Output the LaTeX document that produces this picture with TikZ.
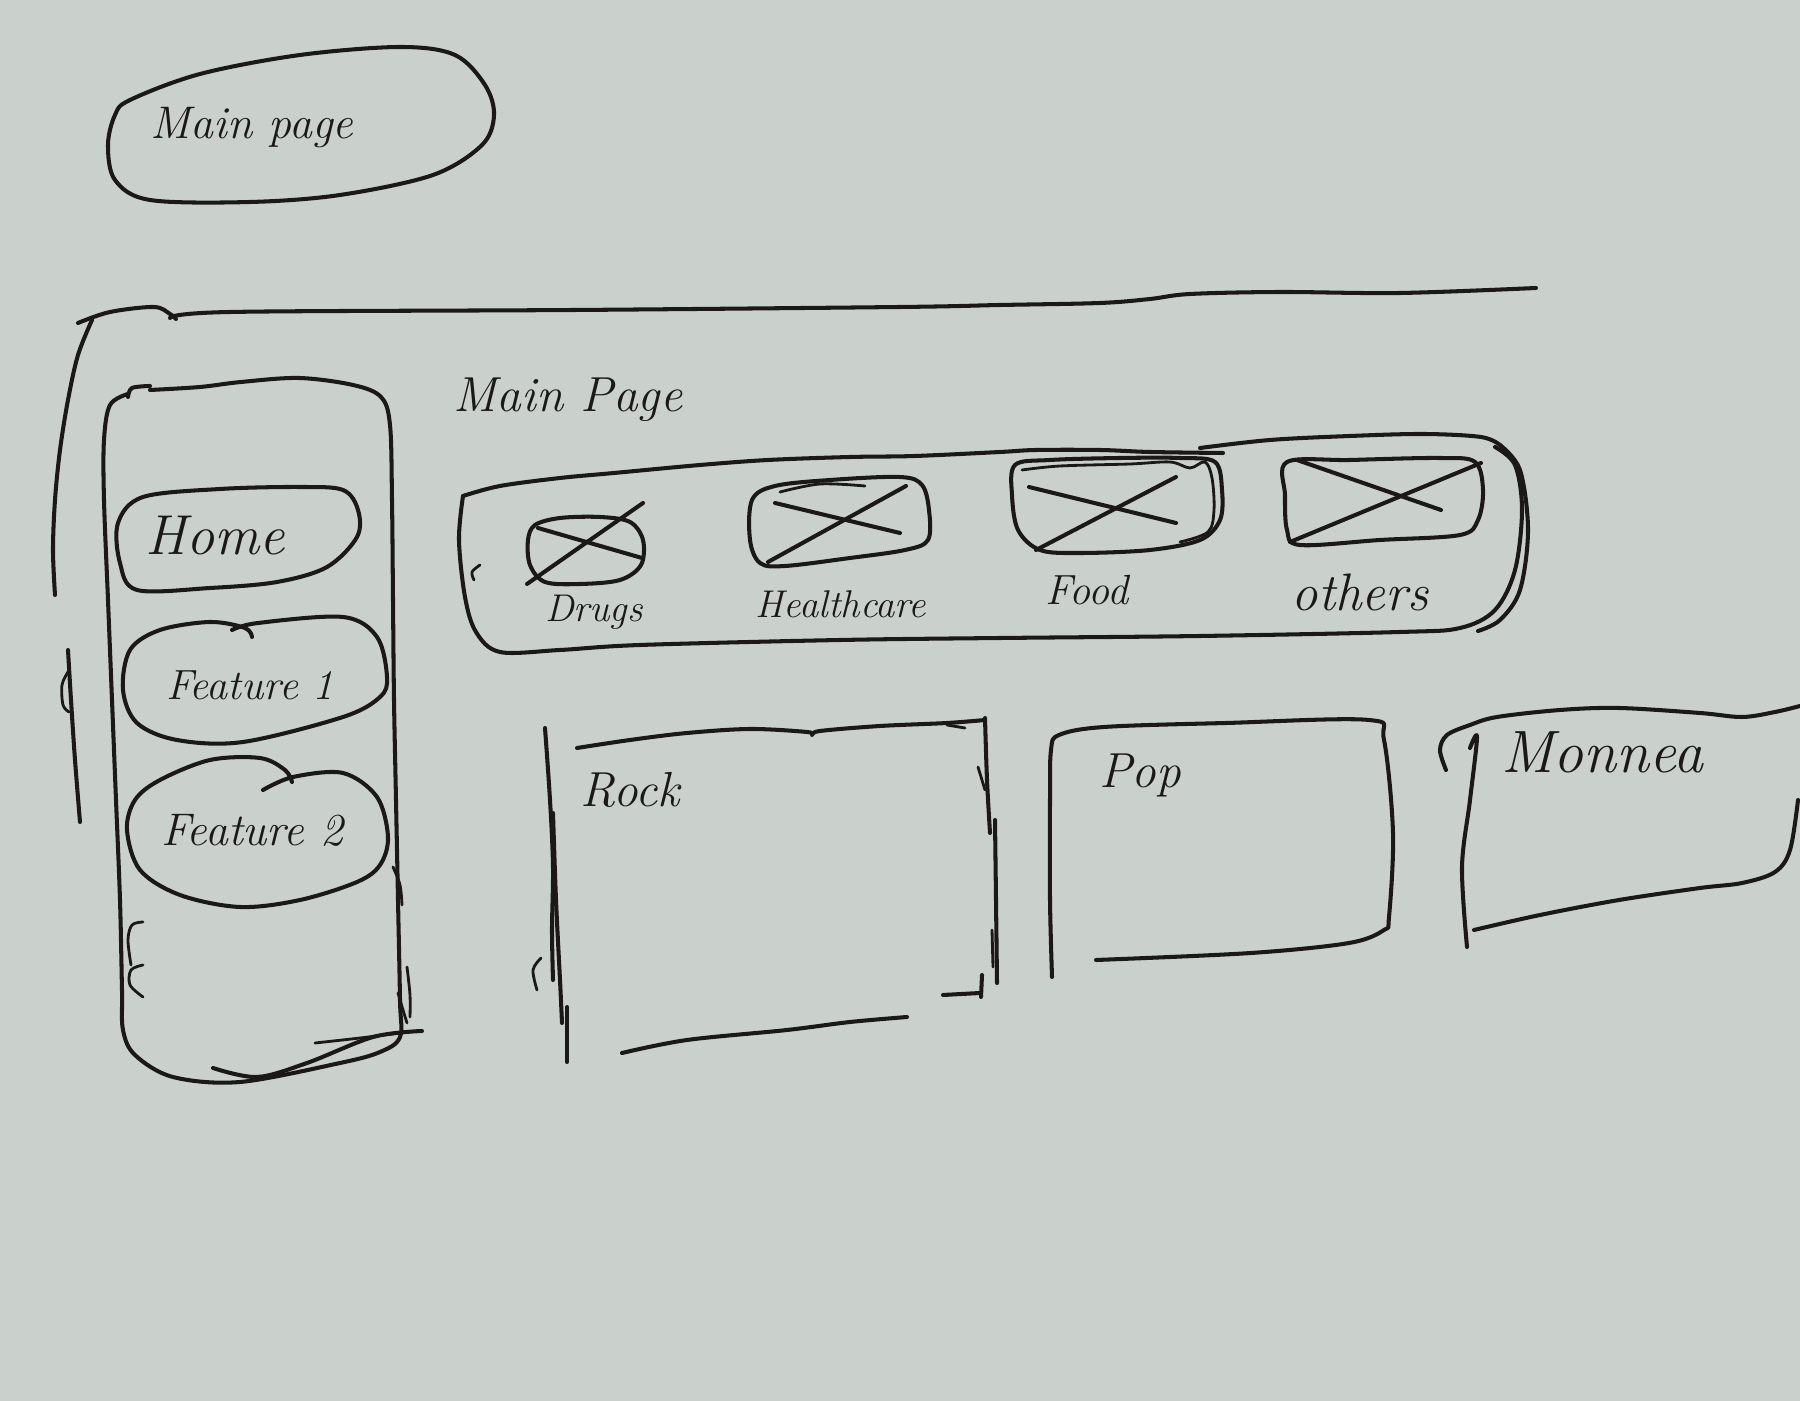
\documentclass[tikz,border=0pt]{standalone}
\begin{document}
\definecolor{paper}{RGB}{202,209,205}
\definecolor{inkc}{RGB}{28,24,24}
\begin{tikzpicture}[x=0.01cm,y=-0.01cm,
  ink/.style={draw=inkc, line width=1.15pt, line cap=round, line join=round},
  thin ink/.style={ink, line width=0.8pt},
  hand/.style={text=inkc, inner sep=0pt, font=\itshape},
  sm/.style={smooth, tension=0.55}]
% paper
\fill[paper] (0,0) rectangle (1800,1401);
\useasboundingbox (0,0) rectangle (1800,1401);

% ---- title blob ----
\draw[ink] plot[smooth cycle, tension=0.55] coordinates {(130,100)(200,74)(300,55)(400,47)(455,55)(485,85)(494,115)(482,145)(433,175)(340,195)(250,202)(150,200)(115,180)(108,145)(115,115)};
\node[hand, font=\itshape\fontsize{13}{15}\selectfont] (title) at (252,128) {Main page};

% ---- outer frame ----
\draw[ink] plot[sm] coordinates {(78,323)(110,312)(154,307)(170,314)(176,319)};
\draw[ink] plot[sm] coordinates {(170,318)(230,312)(574,310)(900,307)(1000,305)(1100,303)(1150,299)(1190,294)(1280,292)(1400,293)(1536,288)};
\draw[ink] plot[sm] coordinates {(92,320)(78,355)(68,400)(60,450)(55,500)(53,550)(55,595)};
\draw[ink] plot[sm] coordinates {(68,650)(71,700)(75,760)(80,822)};
\draw[thin ink] plot[sm] coordinates {(68,672)(62,685)(63,705)(69,712)};

% ---- side menu column ----
\draw[ink] plot[sm] coordinates {(128,397)(132,388)(150,386)};
\draw[ink] plot[sm] coordinates {(150,390)(200,387)(241,382)(299,378)(353,385)(381,397)(390,425)(392,500)(393,600)(394,700)(396,800)(398,900)(400,1000)(400,1037)(380,1052)(340,1063)(240,1082)(173,1077)(135,1055)(123,1030)(122,990)(120,900)(116,800)(112,700)(108,600)(104,500)(104,440)(110,405)(128,394)};
\draw[ink] plot[sm] coordinates {(213,1068)(257,1077)(307,1063)(373,1037)(422,1031)};
\draw[thin ink] plot[sm] coordinates {(315,1043)(360,1038)(407,1032)};
\draw[thin ink] plot[sm] coordinates {(393,867)(400,885)(402,905)};
\draw[thin ink] plot[sm] coordinates {(407,967)(410,995)(410,1017)};
\draw[thin ink] plot[sm] coordinates {(398,993)(403,1010)(407,1023)};
\draw[thin ink] plot[sm] coordinates {(143,922)(132,925)(128,940)(131,965)};
\draw[thin ink] plot[sm] coordinates {(143,965)(131,970)(130,985)(143,997)};

% menu entries
\draw[ink] plot[smooth cycle, tension=0.55] coordinates {(143,497)(220,489)(300,487)(343,490)(358,510)(357,537)(327,567)(277,582)(210,588)(137,590)(120,563)(118,523)};
\node[hand, font=\itshape\fontsize{16}{18}\selectfont] (home) at (215,536) {Home};

\draw[ink] plot[sm] coordinates {(232,630)(258,623)(343,617)(377,637)(387,677)(380,697)(343,717)(243,742)(177,740)(137,723)(123,690)(130,650)(160,630)(210,622)(245,628)(252,637)};
\node[hand, font=\itshape\fontsize{12}{14}\selectfont] (feat1) at (250,685) {Feature 1};

\draw[ink] plot[sm] coordinates {(263,790)(293,777)(343,773)(377,797)(388,837)(380,865)(357,882)(300,900)(240,907)(180,895)(140,870)(127,830)(135,800)(160,780)(210,760)(260,758)(285,770)(292,782)};
\node[hand, font=\itshape\fontsize{13}{15}\selectfont] (feat2) at (252,830) {Feature 2};

% ---- main page heading ----
\node[hand, font=\itshape\fontsize{14}{16}\selectfont] (mphead) at (568,400) {Main Page};

% ---- category bar ----
\draw[ink] plot[sm] coordinates {(463,496)(500,486)(560,478)(614,473)(700,465)(768,460)(850,457)(915,456)(1000,452)(1036,450)(1100,450)(1150,452)(1223,453)};
\draw[ink] plot[sm] coordinates {(1200,448)(1270,440)(1350,436)(1424,434)(1481,437)(1500,445)};
\draw[ink] plot[sm] coordinates {(463,496)(459,540)(465,597)(476,632)(500,652)(560,650)(640,645)(840,640)(1000,638)(1200,636)(1400,632)(1460,628)(1495,610)(1515,570)(1522,510)(1515,465)(1495,447)};
\draw[ink] plot[sm] coordinates {(1500,445)(1520,470)(1528,530)(1520,590)(1500,620)(1478,631)};
\draw[thin ink] plot[sm] coordinates {(480,565)(472,572)(474,580)};

% category tiles
\draw[ink] plot[smooth cycle, tension=0.55] coordinates {(535,525)(560,518)(600,517)(630,522)(643,540)(641,565)(620,580)(580,584)(545,582)(530,565)(528,540)};
\draw[ink] (527,584) -- (643,503);
\draw[ink] (538,528) -- (642,558);
\node[hand, font=\itshape\fontsize{11}{13}\selectfont] (drugs) at (594,612) {Drugs};

\draw[ink] plot[smooth cycle, tension=0.55] coordinates {(752,500)(775,486)(830,480)(900,477)(922,485)(929,510)(928,540)(905,550)(850,558)(785,566)(760,563)(750,540)};
\draw[thin ink] plot[sm] coordinates {(780,492)(820,484)(865,486)};
\draw[ink] (768,562) -- (906,486);
\draw[ink] (775,503) -- (900,533);
\node[hand, font=\itshape\fontsize{11}{13}\selectfont] (health) at (841,604) {Healthcare};

\draw[ink] plot[smooth cycle, tension=0.55] coordinates {(1015,465)(1050,460)(1120,458)(1180,458)(1215,462)(1222,490)(1220,520)(1200,540)(1150,550)(1080,553)(1040,550)(1018,530)(1012,495)};
\draw[thin ink] plot[sm] coordinates {(1022,470)(1060,466)(1130,464)(1170,462)(1190,468)(1205,462)(1212,478)(1214,510)(1208,532)(1180,542)};
\draw[ink] (1036,550) -- (1176,477);
\draw[ink] (1029,487) -- (1176,523);
\node[hand, font=\itshape\fontsize{12}{14}\selectfont] (food) at (1087,590) {Food};

\draw[ink] plot[smooth cycle, tension=0.55] coordinates {(1287,462)(1350,460)(1440,458)(1475,462)(1483,490)(1478,520)(1460,535)(1380,540)(1300,545)(1287,530)(1285,495)};
\draw[ink] (1290,542) -- (1481,463);
\draw[ink] (1297,460) -- (1441,510);
\node[hand, font=\itshape\fontsize{15}{17}\selectfont] (others) at (1360,592) {others};

% ---- Rock panel ----
\draw[ink] plot[sm] coordinates {(545,728)(550,800)(553,867)(552,930)(553,980)};
\draw[ink] plot[sm] coordinates {(553,813)(556,900)(560,980)(562,1023)};
\draw[ink] (567,1007) -- (567,1062);
\draw[thin ink] plot[sm] coordinates {(541,958)(533,970)(537,990)};
\draw[ink] plot[sm] coordinates {(577,748)(630,740)(687,733)(750,729)(807,732)(812,735)(820,731)(880,726)(947,723)(985,720)};
\draw[thin ink] (947,725) -- (965,728);
\draw[ink] plot[sm] coordinates {(985,718)(987,780)(990,833)};
\draw[thin ink] (978,767) -- (985,790);
\draw[ink] plot[sm] coordinates {(995,820)(996,900)(997,983)};
\draw[thin ink] (992,930) -- (993,967);
\draw[ink] (943,995) -- (980,993);
\draw[ink] (982,975) -- (981,997);
\draw[ink] plot[sm] coordinates {(622,1053)(687,1040)(787,1030)(850,1022)(907,1017)};
\node[hand, font=\itshape\fontsize{14}{16}\selectfont] (rock) at (630,790) {Rock};

% ---- Pop panel ----
\draw[ink] plot[sm] coordinates {(1052,977)(1050,900)(1050,800)(1051,750)(1059,735)(1104,727)(1226,723)(1369,720)(1384,740)(1393,833)(1389,917)(1384,930)(1349,943)(1251,953)(1096,960)};
\node[hand, font=\itshape\fontsize{14}{16}\selectfont] (pop) at (1140,775) {Pop};

% ---- third panel ----
\draw[ink] plot[sm] coordinates {(1446,770)(1440,750)(1447,735)(1470,725)(1497,717)(1560,710)(1619,708)(1700,713)(1742,717)(1775,712)(1800,706)};
\draw[ink] plot[sm] coordinates {(1470,748)(1477,737)(1470,800)(1462,867)(1467,947)};
\draw[ink] plot[sm] coordinates {(1474,930)(1540,915)(1619,900)(1700,888)(1742,883)(1775,872)(1790,850)(1798,800)};
\node[hand, font=\itshape\fontsize{17}{19}\selectfont] (monnea) at (1602,752) {Monnea};
\end{tikzpicture}
\end{document}
